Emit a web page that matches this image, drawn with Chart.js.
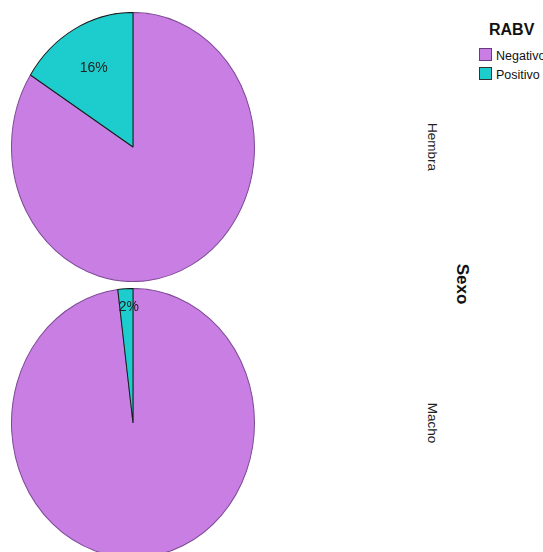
<!DOCTYPE html>
<html>
<head>
<meta charset="utf-8">
<script src="https://cdn.jsdelivr.net/npm/chart.js@4/dist/chart.umd.min.js"></script>
<style>
  html, body { margin: 0; padding: 0; background: #fff; }
  body { width: 543px; height: 552px; overflow: hidden; position: relative; font-family: "Liberation Sans", Arial, sans-serif; }
  canvas { position: absolute; }
  .txt { position: absolute; white-space: nowrap; color: #111; }
  .rot { transform: translate(-50%, -50%) rotate(90deg); }
  .box { position: absolute; width: 11px; height: 11px; border: 1px solid #333; }
</style>
</head>
<body>
<canvas id="pie-hembra" width="244" height="270" style="left:11px;top:12px"></canvas>
<canvas id="pie-macho" width="244" height="270" style="left:11px;top:288px"></canvas>
<div id="legend"></div>
<div id="side"></div>
<script>
// Sexo x RABV, percent within each panel
const sexos = ['Hembra', 'Macho'];
const rabvLabels = ['Negativo', 'Positivo'];
const hembraPct = [84, 16];
const machoPct = [98, 2];
const legendTitle = 'RABV';
const panelTitle = 'Sexo';

const COLORS = ['#C87EE2', '#1DCDCD'];
const BORDERS = ['#7E4A96', '#1a1a1a'];

// pies are drawn stretched vertically to fill the panel (ellipse)
const ellipsePlugin = {
    id: 'ellipse',
    beforeDatasetsDraw(chart) {
        const arc = chart.getDatasetMeta(0).data[0];
        if (!arc) return;
        const sy = (chart.chartArea.height / 2 - 0.5) / arc.outerRadius;
        chart.$sy = sy;
        const ctx = chart.ctx;
        ctx.save();
        ctx.translate(arc.x, arc.y);
        ctx.scale(1, sy);
        ctx.translate(-arc.x, -arc.y);
    },
    afterDatasetsDraw(chart) {
        const ctx = chart.ctx;
        ctx.restore();
        const values = chart.data.datasets[0].data;
        const total = values.reduce((s, v) => s + v, 0);
        chart.getDatasetMeta(0).data.forEach((arc, i) => {
            const pct = values[i] / total * 100;
            if (i === 0) return; // only Positivo share is labelled
            const mid = (arc.startAngle + arc.endAngle) / 2;
            const f = pct < 5 ? 0.86 : 0.67;
            const x = arc.x + Math.cos(mid) * arc.outerRadius * f + (pct < 5 ? 2.5 : 0);
            const y = arc.y + Math.sin(mid) * arc.outerRadius * f * chart.$sy;
            ctx.save();
            ctx.font = '14px "Liberation Sans", Arial, sans-serif';
            ctx.fillStyle = '#222';
            ctx.textAlign = 'center';
            ctx.textBaseline = 'middle';
            ctx.fillText(Math.round(pct) + '%', x, y);
            ctx.restore();
        });
    },
};

function makePie(id, values) {
    const ctx = document.getElementById(id).getContext('2d');
    return new Chart(ctx, {
        type: 'pie',
        data: {
            labels: rabvLabels,
            datasets: [{
                data: values,
                backgroundColor: COLORS,
                borderColor: BORDERS,
                borderWidth: 1,
            }],
        },
        plugins: [ellipsePlugin],
        options: {
            responsive: false,
            animation: false,
            layout: { padding: 0 },
            plugins: { legend: { display: false }, tooltip: { enabled: false } },
        },
    });
}

makePie('pie-hembra', hembraPct);
makePie('pie-macho', machoPct);

// legend
const legend = document.getElementById('legend');
let html = `<div class="txt" style="left:489px;top:22px;font-size:16px;line-height:16px;font-weight:bold">${legendTitle}</div>`;
const itemTops = [48, 67];
rabvLabels.forEach((lab, i) => {
    html += `<div class="box" style="left:479px;top:${itemTops[i]}px;background:${COLORS[i]};border-color:${i === 1 ? '#333' : '#6a3a80'}"></div>`;
    html += `<div class="txt" style="left:496px;top:${itemTops[i] + 2}px;font-size:12.5px;line-height:13px">${lab}</div>`;
});
legend.innerHTML = html;

// panel labels on the right
const side = document.getElementById('side');
const panelCenters = [147, 423];
let sh = '';
sexos.forEach((s, i) => {
    sh += `<div class="txt rot" style="left:432px;top:${panelCenters[i]}px;font-size:13.5px;line-height:14px;color:#222">${s}</div>`;
});
sh += `<div class="txt rot" style="left:462px;top:284px;font-size:17px;line-height:17px;font-weight:bold">${panelTitle}</div>`;
side.innerHTML = sh;
</script>
</body>
</html>
